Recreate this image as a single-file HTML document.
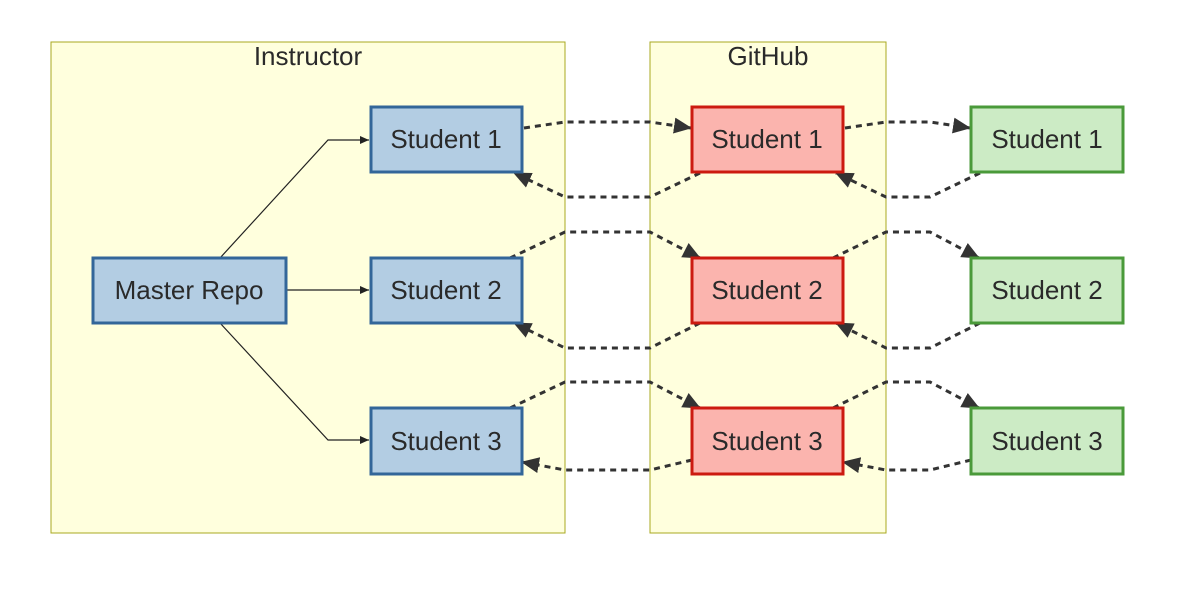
<!DOCTYPE html>
<html><head><meta charset="utf-8"><style>
body{margin:0;background:#fff;width:1200px;height:610px;overflow:hidden}
svg text{font-family:"Liberation Sans",sans-serif;fill:#2a2a2a}
</style></head><body>
<svg width="1200" height="610" viewBox="0 0 1200 610" xmlns="http://www.w3.org/2000/svg">
<defs>
<marker id="big" markerWidth="18" markerHeight="18" refX="17" refY="9" orient="auto" markerUnits="userSpaceOnUse" viewBox="0 0 18 18"><path d="M0,1 L18,9 L0,17 z" fill="#333"/></marker>
<marker id="sm" markerWidth="9" markerHeight="9" refX="9" refY="4.5" orient="auto" markerUnits="userSpaceOnUse" viewBox="0 0 9 9"><path d="M0,0.5 L9,4.5 L0,8.5 z" fill="#222"/></marker>
</defs>
<rect x="51" y="42" width="514" height="491" fill="#ffffdd" stroke="#a8a820" stroke-width="1"/>
<rect x="650" y="42" width="236" height="491" fill="#ffffdd" stroke="#a8a820" stroke-width="1"/>
<text x="308" y="65" font-size="26" text-anchor="middle">Instructor</text>
<text x="768" y="65" font-size="26" text-anchor="middle">GitHub</text>
<g fill="none" stroke="#222" stroke-width="1.2">
<polyline points="220,258 328,140 369,140" marker-end="url(#sm)"/>
<polyline points="286,290 369,290" marker-end="url(#sm)"/>
<polyline points="220,323 328,440 369,440" marker-end="url(#sm)"/>
</g>
<g fill="none" stroke="#333" stroke-width="3" stroke-dasharray="6,5">
<polyline points="524,128 565,122 650,122 691,128" marker-end="url(#big)"/>
<polyline points="700,173 650,197 565,197 514,173" marker-end="url(#big)"/>
<polyline points="510,258 565,232 650,232 700,258" marker-end="url(#big)"/>
<polyline points="700,323 650,348 565,348 514,323" marker-end="url(#big)"/>
<polyline points="510,408 565,382 650,382 700,408" marker-end="url(#big)"/>
<polyline points="692,460 650,470 565,470 522,462" marker-end="url(#big)"/>
<polyline points="845,128 886,122 930,122 970,128" marker-end="url(#big)"/>
<polyline points="980,173 930,197 886,197 836,173" marker-end="url(#big)"/>
<polyline points="833,258 886,232 930,232 979,258" marker-end="url(#big)"/>
<polyline points="980,323 930,348 886,348 836,323" marker-end="url(#big)"/>
<polyline points="833,408 886,382 930,382 979,408" marker-end="url(#big)"/>
<polyline points="971,460 930,470 886,470 843,462" marker-end="url(#big)"/>
</g>
<g stroke-width="3">
<rect x="93" y="258" width="193" height="65" fill="#b3cde3" stroke="#336699"/>
<rect x="371" y="107" width="151" height="65" fill="#b3cde3" stroke="#336699"/>
<rect x="371" y="258" width="151" height="65" fill="#b3cde3" stroke="#336699"/>
<rect x="371" y="408" width="151" height="66" fill="#b3cde3" stroke="#336699"/>
<rect x="692" y="107" width="151" height="65" fill="#fbb4ae" stroke="#cc1a10"/>
<rect x="692" y="258" width="151" height="65" fill="#fbb4ae" stroke="#cc1a10"/>
<rect x="692" y="408" width="151" height="66" fill="#fbb4ae" stroke="#cc1a10"/>
<rect x="971" y="107" width="152" height="65" fill="#ccebc5" stroke="#4a9a3a"/>
<rect x="971" y="258" width="152" height="65" fill="#ccebc5" stroke="#4a9a3a"/>
<rect x="971" y="408" width="152" height="66" fill="#ccebc5" stroke="#4a9a3a"/>
</g>
<g font-size="26" text-anchor="middle">
<text x="189" y="299">Master Repo</text>
<text x="446" y="148">Student 1</text><text x="446" y="299">Student 2</text><text x="446" y="450">Student 3</text>
<text x="767" y="148">Student 1</text><text x="767" y="299">Student 2</text><text x="767" y="450">Student 3</text>
<text x="1047" y="148">Student 1</text><text x="1047" y="299">Student 2</text><text x="1047" y="450">Student 3</text>
</g>
</svg>
</body></html>
